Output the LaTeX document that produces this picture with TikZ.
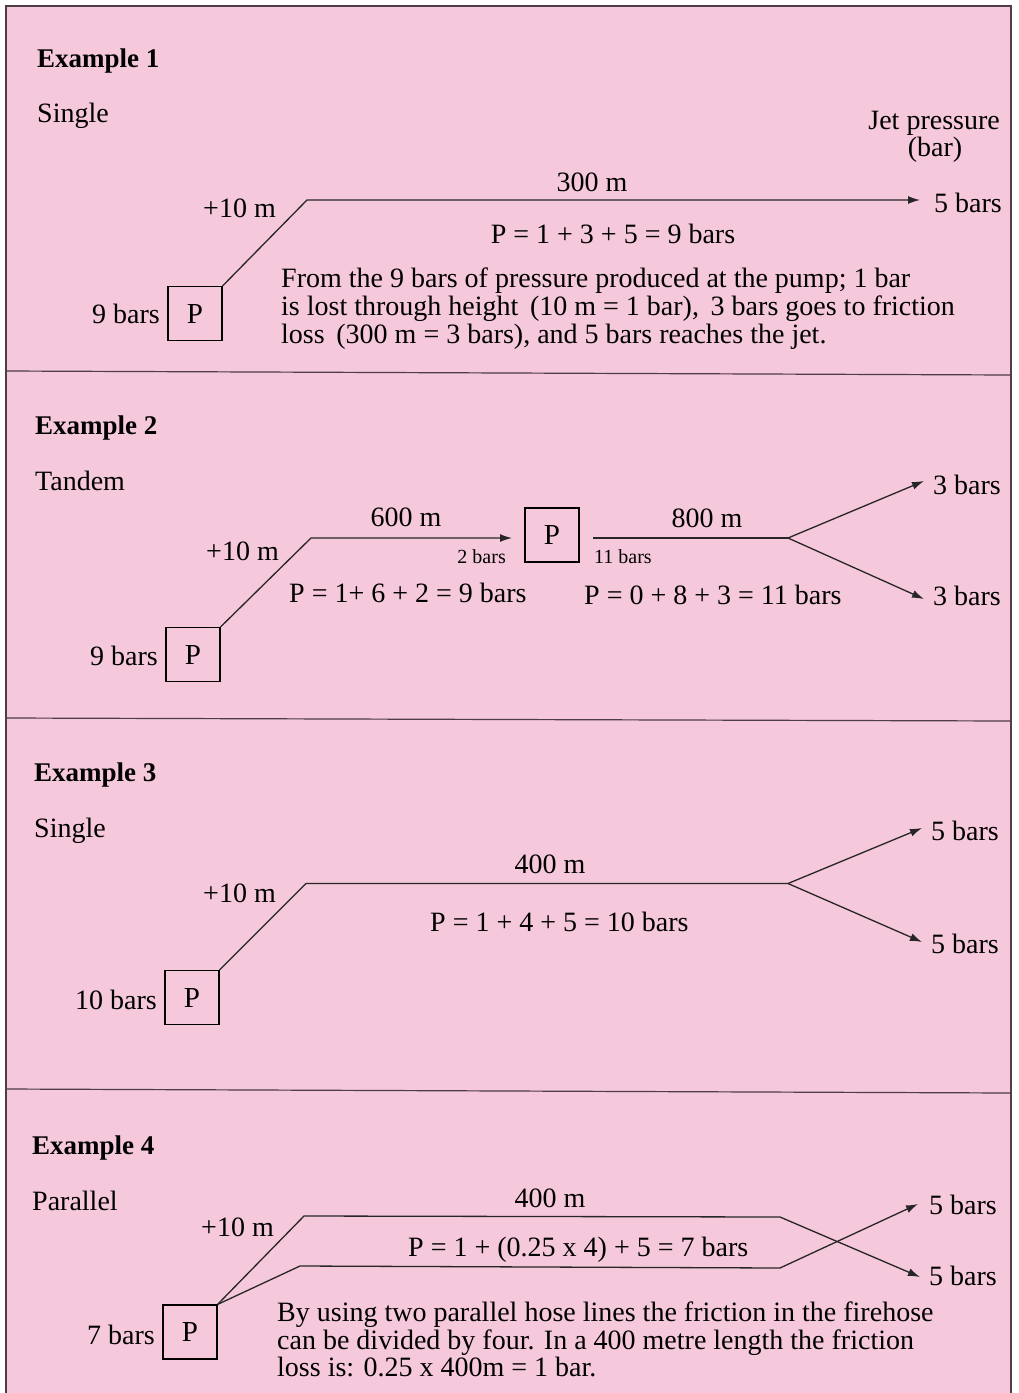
\documentclass[tikz,border=0pt]{standalone}
\usepackage{fontspec}
\setmainfont{Liberation Serif}
\usetikzlibrary{arrows.meta}
\definecolor{pinkbg}{HTML}{F6C8DC}
\definecolor{rulec}{HTML}{4E3C46}
\begin{document}
\begin{tikzpicture}[x=1pt,y=-1pt,
  txt/.style={inner sep=0pt, font=\fontsize{28}{28}\selectfont},
  head/.style={inner sep=0pt, font=\fontsize{27}{27}\selectfont\bfseries},
  small/.style={inner sep=0pt, font=\fontsize{20}{20}\selectfont},
  pump/.style={draw, line width=1.2pt, minimum width=54pt, minimum height=54pt, inner sep=0pt, font=\fontsize{29}{29}\selectfont},
  hose/.style={line width=1.3pt, draw=black!85},
  jet/.style={hose, -{Latex[length=12pt,width=8pt]}},
  frame/.style={line width=1.2pt, draw=rulec}]
\useasboundingbox (0,0) rectangle (1019,1393);
\fill[pinkbg] (6,6) rectangle (1011,1393);
\draw[frame] (6,1393) -- (6,6) -- (1011,6) -- (1011,1393);
\draw[frame] (6,371) -- (1011,375);
\draw[frame] (6,718) -- (1011,721);
\draw[frame] (6,1089) -- (1011,1093);

% ---------- Example 1
\node[head, anchor=base west] (h1) at (37,67) {Example 1};
\node[txt, anchor=base west] (k1) at (37,122) {Single};
\node[txt, anchor=base east] (jp) at (1000,129) {Jet pressure};
\node[txt, anchor=base] (jb) at (935,156) {(bar)};
\node[pump] (p1) at (195,313.5) {P};
\node[txt, anchor=base east] (in1) at (160,323) {9 bars};
\coordinate (b1) at (307,200);
\coordinate (j1) at (920,200);
\draw[jet] (p1.north east) -- (b1) -- (j1);
\node[txt, anchor=base] (l1) at (592,191) {300 m};
\node[txt, anchor=base west] (o1) at (934,212) {5 bars};
\node[txt, anchor=base east] (e1) at (276,217) {+10 m};
\node[txt, anchor=base] (f1) at (613,243) {P = 1 + 3 + 5 = 9 bars};
\node[txt, anchor=base west] (t1a) at (281,287) {From the 9 bars of pressure produced at the pump; 1 bar};
\node[txt, anchor=base west] (t1b) at (281,315) {is lost through height\ \,(10 m = 1 bar),\ \,3 bars goes to friction};
\node[txt, anchor=base west] (t1c) at (281,343) {loss\ \,(300 m = 3 bars), and 5 bars reaches the jet.};

% ---------- Example 2
\node[head, anchor=base west] (h2) at (35,434) {Example 2};
\node[txt, anchor=base west] (k2) at (35,490) {Tandem};
\node[pump] (p2) at (193,654.5) {P};
\node[txt, anchor=base east] (in2) at (158,665) {9 bars};
\node[pump] (p2m) at (552,535) {P};
\coordinate (b2) at (311,538);
\coordinate (a2) at (512,538);
\draw[jet] (p2.north east) -- (b2) -- (a2);
\coordinate (s2) at (593,538);
\coordinate (f2) at (788,538);
\coordinate (u2) at (924,481);
\coordinate (d2) at (924,599);
\draw[hose] (s2) -- (f2);
\draw[jet] (f2) -- (u2);
\draw[jet] (f2) -- (d2);
\node[txt, anchor=base east] (e2) at (279,560) {+10 m};
\node[txt, anchor=base] (l2a) at (406,526) {600 m};
\node[small, anchor=base east] (q2a) at (506,563) {2 bars};
\node[txt, anchor=base] (l2b) at (707,527) {800 m};
\node[small, anchor=base west] (q2b) at (594,563) {11 bars};
\node[txt, anchor=base west] (f2a) at (289,602) {P = 1+ 6 + 2 = 9 bars};
\node[txt, anchor=base west] (f2b) at (584,604) {P = 0 + 8 + 3 = 11 bars};
\node[txt, anchor=base west] (o2a) at (933,494) {3 bars};
\node[txt, anchor=base west] (o2b) at (933,605) {3 bars};

% ---------- Example 3
\node[head, anchor=base west] (h3) at (34,781) {Example 3};
\node[txt, anchor=base west] (k3) at (34,837) {Single};
\node[pump] (p3) at (192,997.5) {P};
\node[txt, anchor=base east] (in3) at (157,1009) {10 bars};
\coordinate (b3) at (306,883.5);
\coordinate (f3) at (788,883.5);
\coordinate (u3) at (922,828);
\coordinate (d3) at (922,942);
\draw[hose] (p3.north east) -- (b3) -- (f3);
\draw[jet] (f3) -- (u3);
\draw[jet] (f3) -- (d3);
\node[txt, anchor=base east] (e3) at (276,902) {+10 m};
\node[txt, anchor=base] (l3) at (550,873) {400 m};
\node[txt, anchor=base west] (f3t) at (430,931) {P = 1 + 4 + 5 = 10 bars};
\node[txt, anchor=base west] (o3a) at (931,840) {5 bars};
\node[txt, anchor=base west] (o3b) at (931,953) {5 bars};

% ---------- Example 4
\node[head, anchor=base west] (h4) at (32,1154) {Example 4};
\node[txt, anchor=base west] (k4) at (32,1210) {Parallel};
\node[pump] (p4) at (190,1332) {P};
\node[txt, anchor=base east] (in4) at (155,1344) {7 bars};
\coordinate (b4u) at (304,1216);
\coordinate (e4u) at (780,1217);
\coordinate (t4d) at (920,1277);
\coordinate (b4l) at (300,1266);
\coordinate (e4l) at (780,1268);
\coordinate (t4u) at (918,1204);
\draw[jet] (p4.north east) -- (b4u) -- (e4u) -- (t4d);
\draw[jet] (p4.north east) -- (b4l) -- (e4l) -- (t4u);
\node[txt, anchor=base east] (e4) at (274,1236) {+10 m};
\node[txt, anchor=base] (l4) at (550,1207) {400 m};
\node[txt, anchor=base west] (f4) at (408,1256) {P = 1 + (0.25 x 4) + 5 = 7 bars};
\node[txt, anchor=base west] (o4a) at (929,1214) {5 bars};
\node[txt, anchor=base west] (o4b) at (929,1285) {5 bars};
\node[txt, anchor=base west] (t4a) at (277,1321) {By using two parallel hose lines the friction in the firehose};
\node[txt, anchor=base west] (t4b) at (277,1349) {can be divided by four. In a 400 metre length the friction};
\node[txt, anchor=base west] (t4c) at (277,1376) {loss is: 0.25 x 400m = 1 bar.};
\end{tikzpicture}
\end{document}
